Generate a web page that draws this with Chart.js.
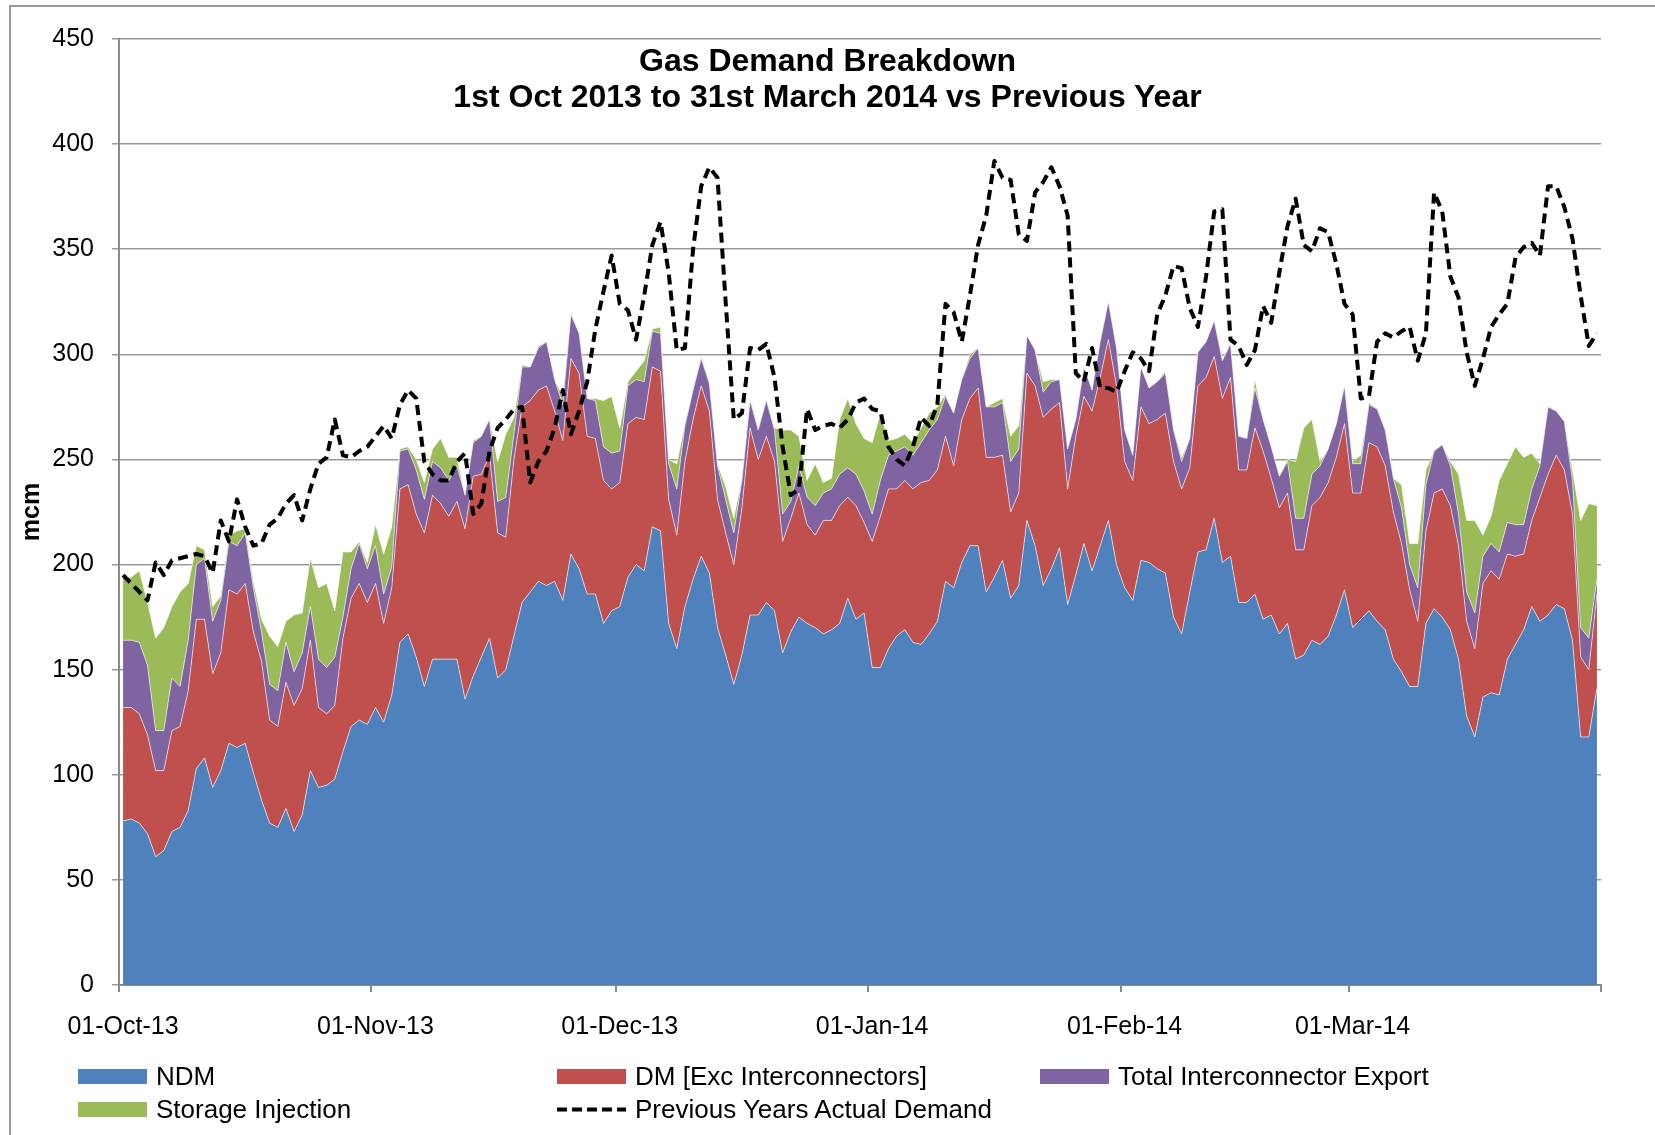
<!DOCTYPE html>
<html>
<head>
<meta charset="utf-8">
<title>Gas Demand Breakdown</title>
<script src="https://cdn.jsdelivr.net/npm/chart.js@4.4.1/dist/chart.umd.min.js"></script>
<style>
    body { margin: 0; background: #fff; font-family: 'Liberation Sans', Arial, sans-serif; }
    #wrap { position: relative; width: 1655px; height: 1135px; overflow: hidden; }
    #frame { position: absolute; left: 9px; top: 5px; width: 1700px; height: 1200px;
             border-left: 2px solid #9a9a9a; border-top: 2px solid #9a9a9a; }
    #chart { position: absolute; left: 0; top: 0; }
    #title { position: absolute; left: 0; top: 42px; width: 1655px; text-align: center;
             font-weight: bold; font-size: 32px; line-height: 36px; color: #000; }
    #legend { position: absolute; left: 78px; top: 1060px; display: grid;
              grid-template-columns: 479px 483px auto; grid-auto-rows: 33px; }
    .item { display: flex; align-items: center; font-size: 26px; color: #000; white-space: nowrap; }
    .swatch { width: 69px; height: 15px; margin-right: 9px; }
</style>
</head>
<body>
<div id="wrap">
    <div id="frame"></div>
    <canvas id="chart" width="1655" height="1135"></canvas>
    <div id="title">Gas Demand Breakdown<br>1st Oct 2013 to 31st March 2014 vs Previous Year</div>
    <div id="legend"></div>
</div>
<script>
// daily values, 1 Oct 2013 .. 31 Mar 2014 (mcm)
const startDate = '2013-10-01';
const tickDates = ['2013-10-01', '2013-11-01', '2013-12-01', '2014-01-01', '2014-02-01', '2014-03-01', '2014-04-01'];
const tickLabels = ['01-Oct-13', '01-Nov-13', '01-Dec-13', '01-Jan-14', '01-Feb-14', '01-Mar-14', ''];

const ndm = [
    78, 79, 77, 72, 61, 64, 73, 75, 83, 103,
    108, 94, 102, 115, 113, 115, 101, 88, 77, 75,
    84, 73, 81, 102, 94, 95, 98, 111, 123, 126,
    124, 132, 125, 138, 163, 167, 156, 142, 155, 155,
    155, 155, 136, 147, 156, 165, 146, 150, 166, 182,
    187, 192, 190, 192, 183, 205, 198, 186, 186, 172,
    178, 180, 194, 200, 197, 218, 216, 172, 160, 180,
    193, 204, 196, 170, 157, 143, 157, 176, 176, 182,
    178, 158, 168, 175, 172, 170, 167, 169, 172, 184,
    174, 177, 151, 151, 160, 166, 169, 163, 162, 167,
    173, 192, 189, 201, 209, 209, 187, 194, 202, 184,
    190, 221, 209, 190, 198, 208, 181, 195, 210, 197,
    209, 221, 200, 189, 183, 202, 201, 198, 196, 175,
    167, 187, 206, 207, 222, 201, 204, 182, 182, 186,
    174, 176, 167, 172, 155, 157, 164, 162, 166, 176,
    188, 170, 174, 178, 173, 169, 155, 149, 142, 142,
    172, 179, 175, 169, 155, 128, 118, 137, 139, 138,
    155, 162, 169, 180, 173, 176, 181, 179, 164, 118,
    118, 141
];

const dm = [
    54, 53, 52, 47, 41, 38, 48, 48, 57, 71,
    66, 54, 56, 73, 73, 76, 67, 66, 49, 48,
    60, 60, 60, 62, 38, 34, 35, 54, 61, 65,
    58, 59, 47, 51, 73, 71, 68, 73, 78, 74,
    68, 75, 81, 95, 87, 87, 69, 63, 84, 93,
    91, 91, 95, 81, 76, 93, 93, 75, 74, 68,
    58, 59, 73, 70, 72, 76, 76, 59, 54, 69,
    76, 81, 77, 61, 58, 57, 70, 89, 74, 79,
    71, 53, 54, 59, 47, 44, 54, 52, 56, 48,
    54, 43, 60, 72, 76, 70, 71, 73, 77, 73,
    72, 69, 58, 68, 70, 75, 64, 57, 50, 41,
    44, 70, 76, 80, 76, 69, 55, 66, 70, 76,
    80, 86, 85, 60, 57, 73, 66, 71, 76, 74,
    69, 59, 79, 82, 77, 78, 85, 63, 63, 79,
    80, 65, 60, 62, 52, 50, 64, 70, 73, 75,
    79, 64, 60, 80, 83, 78, 70, 61, 46, 31,
    44, 55, 61, 59, 54, 45, 42, 54, 58, 55,
    50, 42, 36, 41, 59, 67, 71, 66, 60, 38,
    32, 45
];

const interconnector = [
    32, 32, 34, 33, 19, 19, 25, 19, 24, 26,
    29, 25, 25, 23, 23, 24, 21, 14, 17, 17,
    19, 16, 17, 16, 23, 22, 23, 10, 14, 19,
    16, 18, 14, 10, 18, 17, 21, 16, 16, 17,
    17, 17, 16, 16, 18, 17, 15, 19, 12, 19,
    16, 20, 21, 15, 17, 21, 19, 18, 18, 16,
    17, 15, 18, 18, 18, 17, 18, 17, 22, 17,
    14, 13, 13, 16, 16, 15, 13, 13, 14, 17,
    15, 13, 8, 13, 13, 14, 13, 15, 15, 14,
    15, 15, 13, 17, 16, 18, 16, 16, 19, 24,
    24, 19, 25, 19, 19, 19, 24, 24, 25, 24,
    21, 18, 17, 12, 13, 11, 19, 8, 14, 10,
    17, 18, 18, 15, 12, 19, 17, 18, 19, 15,
    13, 14, 16, 17, 17, 18, 16, 16, 15, 19,
    15, 15, 15, 15, 15, 15, 15, 15, 16, 16,
    18, 14, 14, 18, 18, 17, 16, 17, 12, 16,
    22, 20, 21, 19, 15, 14, 17, 13, 13, 13,
    15, 15, 14, 15, 15, 32, 21, 23, 16, 14,
    15, 7
];

const storage = [
    30, 30, 34, 30, 44, 49, 34, 45, 27, 9,
    4, 7, 2, 3, 7, 2, 3, 6, 23, 21,
    10, 27, 19, 23, 34, 40, 22, 31, 8, 1,
    3, 10, 19, 19, 1, 1, 5, 8, 6, 14,
    11, 4, 0, 1, 0, 0, 19, 30, 8, 1,
    0, 1, 0, 0, 4, 1, 0, 0, 1, 22,
    27, 11, 2, 4, 10, 1, 3, 2, 12, 1,
    1, 1, 1, 1, 6, 7, 1, 1, 1, 1,
    1, 40, 34, 14, 8, 20, 5, 5, 26, 33,
    24, 25, 34, 32, 7, 6, 6, 6, 7, 8,
    6, 1, 0, 0, 2, 0, 0, 2, 2, 12,
    11, 0, 0, 5, 1, 0, 0, 0, 0, 0,
    0, 0, 0, 0, 0, 0, 0, 0, 1, 1,
    2, 0, 0, 0, 0, 0, 0, 0, 0, 4,
    0, 0, 0, 1, 27, 43, 26, 2, 0, 0,
    0, 1, 4, 1, 0, 0, 0, 11, 10, 21,
    7, 0, 0, 2, 19, 34, 44, 10, 13, 34,
    28, 37, 32, 17, 1, 0, 0, 0, 5, 51,
    64, 35
];

const previousYear = [
    195, 191, 187, 183, 201, 195, 202, 203, 204, 205,
    204, 196, 221, 211, 231, 218, 209, 210, 219, 222,
    229, 233, 221, 236, 248, 251, 269, 252, 251, 254,
    256, 261, 266, 260, 276, 283, 279, 249, 243, 240,
    240, 249, 253, 224, 229, 254, 265, 269, 274, 275,
    239, 249, 254, 265, 283, 262, 273, 287, 312, 330,
    347, 324, 321, 307, 328, 352, 363, 339, 302, 303,
    350, 380, 389, 384, 325, 269, 272, 303, 302, 305,
    289, 256, 233, 236, 274, 264, 266, 267, 265, 269,
    277, 279, 274, 273, 256, 250, 247, 256, 270, 266,
    276, 324, 320, 306, 328, 352, 366, 392, 384, 383,
    357, 354, 377, 382, 389, 380, 366, 291, 287, 303,
    284, 284, 282, 292, 301, 298, 292, 319, 328, 342,
    341, 322, 313, 337, 368, 369, 307, 304, 295, 302,
    323, 315, 339, 361, 374, 352, 349, 360, 358, 343,
    324, 319, 279, 280, 306, 310, 308, 311, 313, 297,
    310, 377, 368, 337, 327, 301, 285, 298, 313, 319,
    324, 346, 351, 353, 347, 380, 380, 370, 355, 328,
    304, 310
];

const DAY_MS = 86400000;
const dayIndex = d => Math.round((Date.parse(d) - Date.parse(startDate)) / DAY_MS);
// ticks sit on the day boundaries, data points in the middle of each day
const tickValues = tickDates.map(d => dayIndex(d) - 0.5);
const toPoints = arr => arr.map((v, i) => ({ x: i, y: v }));

const FONT = "'Liberation Sans', Arial, sans-serif";
const AXIS_GREY = '#8a8a8a';
const GRID_GREY = '#9a9a9a';
const EDGE = 'rgba(255, 255, 255, 0.6)';

function areaSet(label, values, color, fill) {
    return {
        label: label,
        data: toPoints(values),
        backgroundColor: color,
        borderColor: EDGE,
        borderWidth: 1,
        fill: fill,
        stack: 'demand',
        order: 1
    };
}

const ctx = document.getElementById('chart');
const chart = new Chart(ctx, {
    type: 'line',
    data: {
        datasets: [
            areaSet('NDM', ndm, '#4F81BD', 'origin'),
            areaSet('DM [Exc Interconnectors]', dm, '#C0504D', '-1'),
            areaSet('Total Interconnector Export', interconnector, '#8064A2', '-1'),
            areaSet('Storage Injection', storage, '#9BBB59', '-1'),
            {
                label: 'Previous Years Actual Demand',
                data: toPoints(previousYear),
                borderColor: '#000',
                borderWidth: 4,
                borderDash: [10, 6],
                borderJoinStyle: 'round',
                fill: false,
                stack: 'previous',
                order: 0
            }
        ]
    },
    options: {
        responsive: false,
        animation: false,
        devicePixelRatio: 1,
        layout: { padding: { top: 39, right: 54, left: 0, bottom: 0 } },
        elements: { point: { radius: 0 }, line: { tension: 0 } },
        plugins: {
            legend: { display: false },
            title: { display: false },
            tooltip: { enabled: false }
        },
        scales: {
            x: {
                type: 'linear',
                min: tickValues[0],
                max: ndm.length - 0.5,
                afterBuildTicks: scale => {
                    scale.ticks = tickValues.map(v => ({ value: v }));
                },
                afterFit: scale => { scale.height = 150; },
                grid: { drawOnChartArea: false, color: AXIS_GREY, lineWidth: 2, tickLength: 7 },
                border: { color: AXIS_GREY, width: 2 },
                ticks: {
                    autoSkip: false,
                    maxRotation: 0,
                    padding: 20,
                    labelOffset: 4,
                    color: '#000',
                    font: { family: FONT, size: 25 },
                    callback: value => tickLabels[tickValues.indexOf(value)] || ''
                }
            },
            y: {
                stacked: true,
                min: 0,
                max: 450,
                afterFit: scale => { scale.width = 119; },
                grid: { color: GRID_GREY, lineWidth: 1.5, tickLength: 7 },
                border: { color: AXIS_GREY, width: 2 },
                ticks: {
                    stepSize: 50,
                    padding: 18,
                    color: '#000',
                    font: { family: FONT, size: 25 }
                },
                title: {
                    display: true,
                    text: 'mcm',
                    color: '#000',
                    font: { family: FONT, size: 25, weight: 'bold' },
                    padding: { top: 17, bottom: 0 }
                }
            }
        }
    }
});

// legend in three columns, like the original
const legendEl = document.getElementById('legend');
chart.data.datasets.forEach(ds => {
    const item = document.createElement('div');
    item.className = 'item';
    let mark;
    if (ds.fill === false) {
        mark = document.createElementNS('http://www.w3.org/2000/svg', 'svg');
        mark.setAttribute('width', '69');
        mark.setAttribute('height', '15');
        mark.style.marginRight = '9px';
        mark.innerHTML = '<line x1="0" y1="7.5" x2="69" y2="7.5" stroke="#000" stroke-width="4" stroke-dasharray="10 5"/>';
    } else {
        mark = document.createElement('div');
        mark.className = 'swatch';
        mark.style.background = ds.backgroundColor;
    }
    const text = document.createElement('span');
    text.textContent = ds.label;
    item.appendChild(mark);
    item.appendChild(text);
    legendEl.appendChild(item);
});
</script>
</body>
</html>
